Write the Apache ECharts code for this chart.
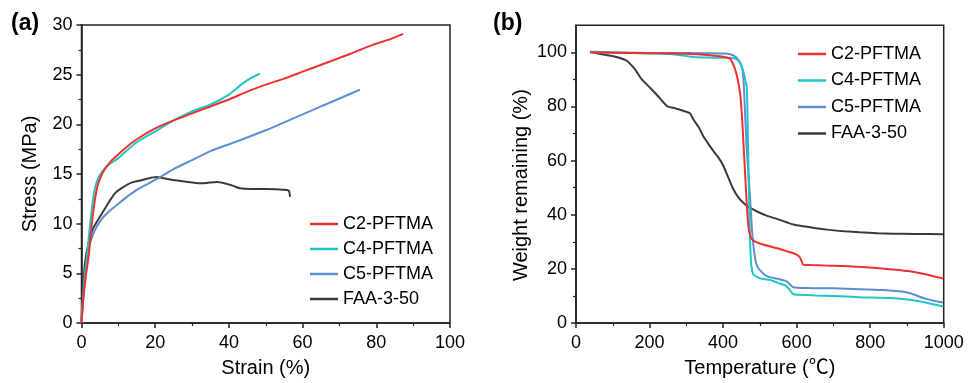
<!DOCTYPE html>
<html>
<head>
<meta charset="utf-8">
<script src="https://cdn.jsdelivr.net/npm/echarts@6/dist/echarts.min.js"></script>
<style>
html,body{margin:0;padding:0;background:#fff;}
#chart{width:977px;height:383px;}
</style>
</head>
<body>
<div id="chart"></div>
<script>
// ---- Panel (a): stress-strain curves [strain %, stress MPa]
const seriesNames = ['C2-PFTMA', 'C4-PFTMA', 'C5-PFTMA', 'FAA-3-50'];
const stressC2 = [[0,0],[0.5,2.5],[1.2,4.8],[2,6.9],[2.9,10.3],[3.6,12.3],[4.25,13.65],[5,14.5],[6,15.3],[8,16.3],[10,17.0],[12.5,17.8],[15,18.5],[20,19.6],[25,20.4],[30,21.1],[35,21.8],[40,22.5],[45,23.3],[50,24.0],[55,24.6],[60,25.3],[66.5,26.2],[73,27.1],[79,28.0],[84,28.6],[87.3,29.1]];
const stressC4 = [[0,0],[0.5,2.5],[1,4.8],[1.54,6.94],[2.44,10.3],[3.35,13.0],[4.2,14.3],[5.16,15.0],[7,15.8],[10,16.6],[13,17.6],[15,18.2],[20,19.3],[25,20.4],[30,21.3],[35,22.0],[40,23.0],[43,23.9],[45.7,24.6],[48.4,25.1]];
const stressC5 = [[0,0],[0.6,3.6],[1.1,5.5],[2,7.6],[3,8.8],[4,9.6],[5,10.2],[6,10.7],[8,11.4],[10,12.0],[12,12.6],[15,13.4],[18,14.0],[20.4,14.5],[25,15.5],[30,16.4],[35,17.3],[40,18.0],[43,18.4],[50,19.4],[55,20.2],[60,21.0],[65,21.8],[70,22.6],[75.6,23.5]];
const stressFAA = [[0,0],[0.2,2],[0.5,4],[1,6.2],[2,8.2],[3,9.4],[4,10.1],[5,10.7],[6,11.3],[7,11.9],[8,12.5],[9.2,13.1],[11,13.6],[13.7,14.15],[16,14.35],[18,14.55],[20.4,14.7],[22,14.6],[24.9,14.4],[28,14.25],[32.2,14.07],[34,14.1],[36.7,14.2],[39,14.05],[41.2,13.8],[43,13.56],[46,13.5],[50,13.5],[55.7,13.4],[56.3,13.3],[56.6,12.7]];

// ---- Panel (b): TGA curves [temperature °C, weight %]
const tgaC2 = [[38,100],[100,99.9],[200,99.7],[300,99.5],[364,98.9],[410,98.1],[420,97.5],[432,94],[440,90],[447,84],[452,75],[456,65],[460,55],[464,45],[468,37],[473,32.5],[482,30.5],[500,29.4],[550,27.5],[573,26.5],[600,25.3],[610,24],[618,21.6],[640,21.4],[682,21.2],[750,20.9],[818,20.3],[860,19.8],[908,19.1],[950,18],[999,16.4]];
const tgaC4 = [[38,100],[150,99.8],[256,99.4],[328,98.2],[410,98.0],[430,97.8],[445,96.5],[455,93],[460,90],[464,87.5],[466,80],[468,65],[470,50],[472,38],[474,28],[477,21],[482,18],[490,17.2],[500,16.5],[530,15.8],[555,14.5],[570,13.8],[580,12.5],[588,11],[595,10.5],[650,10.2],[700,10.0],[772,9.5],[850,9.2],[908,8.6],[950,7.6],[999,6.1]];
const tgaC5 = [[38,100.2],[200,99.8],[300,99.8],[400,99.6],[420,99.3],[437,98],[450,95],[455,91],[459,80],[464,65],[469,55],[474,45],[478,35.7],[483,28],[490,22],[500,19.5],[520,17.2],[550,16.3],[573,15.4],[582,14.2],[591,13.2],[620,12.9],[700,12.8],[772,12.5],[830,12.2],[880,11.7],[908,11.0],[950,9.0],[980,8.0],[999,7.6]];
const tgaFAA = [[38,100.2],[74,99.2],[110,98.3],[138,96.9],[160,93.8],[179,90],[201,87],[225,83.5],[247,80.2],[270,79.3],[292,78.4],[310,77.5],[319,75.3],[333,72.5],[346,69.1],[360,66.2],[374,63.5],[388,61],[401,58],[415,53.5],[428,49.4],[441,46.5],[455,44.4],[470,42.8],[491,41.3],[520,39.6],[550,38.3],[591,36.4],[640,35.3],[682,34.5],[730,33.9],[772,33.5],[820,33.2],[863,33.0],[920,32.9],[999,32.8]];

const yTicksB = [0, 20, 40, 60, 80, 100];
const yMinorB = [10, 30, 50, 70, 90];

const colors = ['#ee3030', '#1ec6c4', '#5b8fd2', '#3a3a3a'];
const FONT = '"Liberation Sans", Arial, "Noto Sans CJK SC", sans-serif';
const axisColor = '#222';

function xAxisCfg(grid, min, max, interval, name) {
  return {
    type: 'value', gridIndex: grid, min: min, max: max, interval: interval,
    name: name, nameLocation: 'middle', nameGap: 35,
    nameTextStyle: {fontSize: 20, color: '#000', fontFamily: FONT},
    axisLine: {show: true, lineStyle: {color: axisColor, width: 1.5}},
    axisTick: {show: true, length: 5, lineStyle: {color: axisColor, width: 1.5}},
    minorTick: {show: true, splitNumber: 2, length: 3, lineStyle: {color: axisColor, width: 1.2}},
    axisLabel: {fontSize: 18, color: '#000', fontFamily: FONT, margin: 11, formatter: v => String(v)},
    splitLine: {show: false}
  };
}

const chart = echarts.init(document.getElementById('chart'), null, {renderer: 'canvas'});

const series = [];
[stressC2, stressC4, stressC5, stressFAA].forEach((d, i) => {
  series.push({name: seriesNames[i], type: 'line', xAxisIndex: 0, yAxisIndex: 0, data: d,
    symbol: 'none', smooth: 0.2, lineStyle: {width: 2, color: colors[i]}, itemStyle: {color: colors[i]}, z: 10 - i});
});
[tgaC2, tgaC4, tgaC5, tgaFAA].forEach((d, i) => {
  series.push({name: seriesNames[i], type: 'line', xAxisIndex: 1, yAxisIndex: 1, data: d,
    symbol: 'none', smooth: 0.2, lineStyle: {width: 2, color: colors[i]}, itemStyle: {color: colors[i]}, z: 10 - i});
});

const legendBase = {
  orient: 'vertical', icon: 'rect', itemWidth: 28, itemHeight: 2.5,
  data: seriesNames, selectedMode: false,
  textStyle: {fontSize: 18, color: '#000', fontFamily: FONT, padding: [0,0,0,0]}
};

chart.setOption({
  animation: false,
  backgroundColor: '#fff',
  textStyle: {fontFamily: FONT},
  grid: [
    {left: 81.5, top: 25, width: 368.5, height: 298, show: true, borderColor: axisColor, borderWidth: 1.5, containLabel: false},
    {left: 576, top: 25.3, width: 367.7, height: 298, show: true, borderColor: axisColor, borderWidth: 1.5, containLabel: false}
  ],
  xAxis: [
    xAxisCfg(0, 0, 100, 20, 'Strain (%)'),
    xAxisCfg(1, 0, 1000, 200, 'Temperature (\u2103)')
  ],
  yAxis: [
    {
      type: 'value', gridIndex: 0, min: 0, max: 30, interval: 5,
      name: 'Stress (MPa)', nameLocation: 'middle', nameGap: 41,
      nameTextStyle: {fontSize: 20, color: '#000', fontFamily: FONT},
      axisLine: {show: true, lineStyle: {color: axisColor, width: 1.5}},
      axisTick: {show: true, length: 5, lineStyle: {color: axisColor, width: 1.5}},
      minorTick: {show: true, splitNumber: 2, length: 3, lineStyle: {color: axisColor, width: 1.2}},
      axisLabel: {fontSize: 18, color: '#000', fontFamily: FONT, margin: 9},
      splitLine: {show: false}
    },
    {
      type: 'value', gridIndex: 1, min: 0, max: 110, interval: 20,
      name: 'Weight remaining (%)', nameLocation: 'middle', nameGap: 45,
      nameTextStyle: {fontSize: 20, color: '#000', fontFamily: FONT, padding: [0, 22, 0, 0]},
      axisLine: {show: true, lineStyle: {color: axisColor, width: 1.5}},
      axisTick: {show: true, length: 5, customValues: yTicksB, lineStyle: {color: axisColor, width: 1.5}},
      axisLabel: {fontSize: 18, color: '#000', fontFamily: FONT, margin: 9, customValues: yTicksB},
      splitLine: {show: false}
    },
    {
      type: 'value', gridIndex: 1, min: 0, max: 110, position: 'left',
      axisLine: {show: false},
      axisTick: {show: true, length: 3, customValues: yMinorB, lineStyle: {color: axisColor, width: 1.2}},
      axisLabel: {show: false},
      splitLine: {show: false}
    }
  ],
  legend: [
    Object.assign({}, legendBase, {left: 305, top: 210, itemGap: 7}),
    Object.assign({}, legendBase, {left: 793, top: 40, itemGap: 8.5})
  ],
  graphic: [
    {type: 'text', left: 11, top: 12, style: {text: '(a)', font: 'bold 23px "Liberation Sans", Arial, sans-serif', fill: '#000'}},
    {type: 'text', left: 493, top: 12, style: {text: '(b)', font: 'bold 23px "Liberation Sans", Arial, sans-serif', fill: '#000'}}
  ],
  series: series
});
</script>
</body>
</html>
